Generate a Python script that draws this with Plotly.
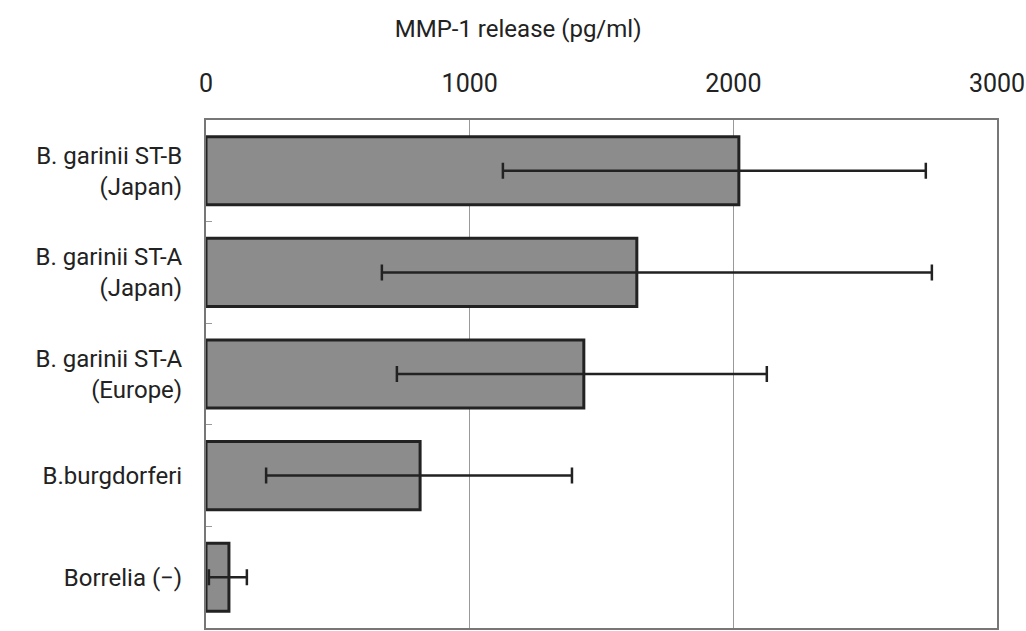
import plotly.graph_objects as go

categories = ["B. garinii ST-B<br>(Japan)", "B. garinii ST-A<br>(Japan)", "B. garinii ST-A<br>(Europe)",
              "B.burgdorferi", "Borrelia (−)"]
values = [2021, 1634, 1433, 812, 87]
err_low = [1126, 667, 724, 228, 11]
err_high = [2730, 2753, 2127, 1388, 155]

plus = [h - v for h, v in zip(err_high, values)]
minus = [v - l for l, v in zip(err_low, values)]

font = "Roboto, Liberation Sans, sans-serif"

fig = go.Figure(go.Bar(
    y=categories, x=values, orientation="h",
    marker=dict(color="#8c8c8c", line=dict(color="#222222", width=3)),
    error_x=dict(type="data", symmetric=False, array=plus, arrayminus=minus,
                 color="#222222", thickness=2.5, width=8),
))

fig.update_layout(
    width=1026, height=631,
    margin=dict(l=206, r=29, t=120, b=3),
    plot_bgcolor="white", paper_bgcolor="white",
    bargap=0.33, showlegend=False,
    font=dict(family=font, color="#222222", size=24),
    title=dict(text="MMP-1 release (pg/ml)", x=0.505, xanchor="center", xref="container",
               y=0.954, yanchor="middle", yref="container",
               font=dict(size=24, family=font, color="#222222")),
)
fig.update_xaxes(side="top", range=[0, 3000], tickvals=[0, 1000, 2000, 3000],
                 showgrid=True, gridcolor="#999999", gridwidth=1,
                 showline=True, linecolor="#777777", linewidth=2, mirror=True,
                 ticks="", tickfont=dict(size=25), zeroline=False, automargin=False,
                 ticklabelstandoff=16)
fig.update_yaxes(autorange="reversed", showline=True, linecolor="#777777", linewidth=2, mirror=True,
                 ticks="inside", ticklen=6, tickcolor="#999999", tickson="boundaries",
                 tickfont=dict(size=24), ticklabelstandoff=17, automargin=False)

fig.write_html("out.html", config={"displayModeBar": False},
               post_script="document.body.style.margin='0';document.body.style.overflow='hidden';")
